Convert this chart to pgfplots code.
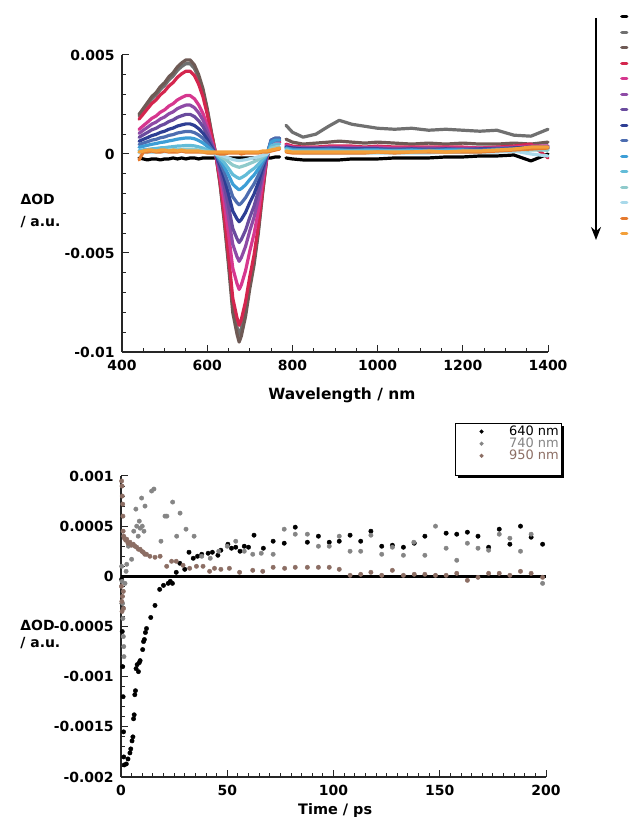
\documentclass[border=0pt]{standalone}
\usepackage{fontspec}
\setmainfont{DejaVu Sans}
\usepackage{pgfplots}
\pgfplotsset{compat=1.18}
\usepackage{pgfplotstable}
\usetikzlibrary{arrows.meta,shadows}

\definecolor{c1}{HTML}{000000}
\definecolor{c2}{HTML}{707070}
\definecolor{c3}{HTML}{6E5A55}
\definecolor{c4}{HTML}{D4264E}
\definecolor{c5}{HTML}{D6378F}
\definecolor{c6}{HTML}{8E4BA6}
\definecolor{c7}{HTML}{6A4B9E}
\definecolor{c8}{HTML}{2E3E94}
\definecolor{c9}{HTML}{4D6DB0}
\definecolor{c10}{HTML}{3D9ED6}
\definecolor{c11}{HTML}{63BCD8}
\definecolor{c12}{HTML}{8FCACB}
\definecolor{c13}{HTML}{A9D9EA}
\definecolor{c14}{HTML}{E57A2E}
\definecolor{c15}{HTML}{F3A03A}
\definecolor{k740}{HTML}{858585}
\definecolor{k950}{HTML}{8C6E64}

% transient spectra, Delta OD in units of 1e-3
\pgfplotstableread{
wl   s1    s2    s3    s4    s5    s6    s7    s8    s9    s10   s11   s12   s13   s14   s15
440  -0.2  1.92  2.0   1.76  1.24  1.04  0.84  0.64  0.48  0.34  0.18  0.10  0.06  -0.3  0.1
450  -0.25 2.21  2.3   2.02  1.43  1.20  0.97  0.74  0.55  0.39  0.21  0.12  0.07  0.1   0.15
460  -0.3  2.50  2.6   2.29  1.61  1.35  1.09  0.83  0.62  0.44  0.23  0.13  0.08  0.1   0.2
470  -0.25 2.78  2.9   2.55  1.80  1.51  1.22  0.93  0.70  0.49  0.26  0.15  0.09  0.15  0.2
480  -0.25 2.98  3.1   2.73  1.92  1.61  1.30  0.99  0.74  0.53  0.28  0.16  0.09  0.1   0.15
490  -0.3  3.26  3.4   2.99  2.11  1.77  1.43  1.09  0.82  0.58  0.31  0.17  0.10  0.1   0.2
500  -0.25 3.46  3.6   3.17  2.23  1.87  1.51  1.15  0.86  0.61  0.32  0.18  0.11  0.15  0.2
510  -0.25 3.74  3.9   3.43  2.42  2.03  1.64  1.25  0.94  0.66  0.35  0.20  0.12  0.1   0.15
520  -0.2  3.94  4.1   3.61  2.54  2.13  1.72  1.31  0.98  0.70  0.37  0.21  0.12  0.1   0.2
530  -0.25 4.22  4.4   3.87  2.73  2.29  1.85  1.41  1.06  0.75  0.40  0.22  0.13  0.1   0.15
540  -0.2  4.42  4.6   4.05  2.85  2.39  1.93  1.47  1.10  0.78  0.41  0.23  0.14  0.15  0.2
550  -0.25 4.56  4.75  4.18  2.95  2.47  2.00  1.52  1.14  0.81  0.43  0.24  0.14  0.1   0.15
560  -0.2  4.56  4.75  4.18  2.95  2.47  2.00  1.52  1.14  0.81  0.43  0.24  0.14  0.1   0.15
570  -0.2  4.32  4.5   3.96  2.79  2.34  1.89  1.44  1.08  0.77  0.41  0.23  0.14  0.1   0.15
580  -0.25 3.84  4.0   3.52  2.48  2.08  1.68  1.28  0.96  0.68  0.36  0.20  0.12  0.1   0.15
590  -0.2  3.17  3.3   2.90  2.05  1.72  1.39  1.06  0.79  0.56  0.30  0.17  0.10  0.1   0.1
600  -0.2  2.21  2.3   2.02  1.43  1.20  0.97  0.74  0.55  0.39  0.21  0.12  0.07  0.05  0.1
610  -0.2  1.06  1.1   0.97  0.68  0.57  0.46  0.35  0.26  0.19  0.10  0.06  0.03  0.05  0.1
620  -0.2  0.00  0.0   0.00  0.00  0.00  0.00  0.00  0.00  0.00  0.00  0.00  0.00  0.05  0.1
630  -0.2  -1.44 -1.5  -1.37 -1.08 -0.86 -0.71 -0.54 -0.41 -0.29 -0.20 -0.11 -0.05 0.0   0.1
640  -0.2  -3.26 -3.4  -3.09 -2.45 -1.94 -1.60 -1.22 -0.92 -0.65 -0.44 -0.24 -0.12 0.0   0.1
650  -0.2  -5.38 -5.6  -5.10 -4.03 -3.19 -2.63 -2.02 -1.51 -1.06 -0.73 -0.39 -0.20 0.05  0.1
660  -0.2  -7.68 -8.0  -7.28 -5.76 -4.56 -3.76 -2.88 -2.16 -1.52 -1.04 -0.56 -0.28 0.05  0.1
670  -0.2  -8.74 -9.1  -8.28 -6.55 -5.19 -4.28 -3.28 -2.46 -1.73 -1.18 -0.64 -0.32 0.05  0.1
675  -0.2  -9.12 -9.5  -8.65 -6.84 -5.42 -4.47 -3.42 -2.57 -1.81 -1.24 -0.67 -0.33 0.05  0.1
680  -0.2  -8.83 -9.2  -8.37 -6.62 -5.24 -4.32 -3.31 -2.48 -1.75 -1.20 -0.64 -0.32 0.0   0.1
690  -0.2  -7.87 -8.2  -7.46 -5.90 -4.67 -3.85 -2.95 -2.21 -1.56 -1.07 -0.57 -0.29 0.05  0.1
700  -0.2  -6.53 -6.8  -6.19 -4.90 -3.88 -3.20 -2.45 -1.84 -1.29 -0.88 -0.48 -0.24 0.05  0.1
710  -0.2  -5.38 -5.6  -5.10 -4.03 -3.19 -2.63 -2.02 -1.51 -1.06 -0.73 -0.39 -0.20 0.05  0.1
720  -0.2  -3.84 -4.0  -3.64 -2.88 -2.28 -1.88 -1.44 -1.08 -0.76 -0.52 -0.28 -0.14 0.05  0.1
730  -0.2  -1.92 -2.0  -1.82 -1.44 -1.14 -0.94 -0.72 -0.54 -0.38 -0.26 -0.14 -0.07 0.1   0.15
740  -0.2  -0.19 -0.2  -0.18 -0.14 -0.11 -0.09 -0.07 -0.05 -0.04 -0.03 -0.01 -0.01 0.1   0.15
750  -0.2  0.5   0.5   0.5   0.5   0.6   0.6   0.7   0.7   0.6   0.4   0.3   0.2   0.15  0.2
760  -0.15 0.6   0.6   0.6   0.6   0.7   0.7   0.8   0.8   0.7   0.5   0.35  0.25  0.2   0.25
770  -0.15 0.6   0.6   0.6   0.6   0.7   0.7   0.8   0.8   0.7   0.5   0.35  0.25  0.25  0.3
777  nan   nan   nan   nan   nan   nan   nan   nan   nan   nan   nan   nan   nan   nan   nan
785  -0.2  1.45  0.75  0.5   0.45  0.4   0.35  0.35  0.3   0.3   0.25  0.2   0.15  0.1   0.15
800  -0.25 1.1   0.6   0.4   0.35  0.3   0.3   0.3   0.25  0.2   0.15  0.1   0.1   0.05  0.1
825  -0.3  0.85  0.5   0.35  0.3   0.3   0.25  0.25  0.2   0.2   0.15  0.1   0.05  0.05  0.1
855  -0.3  1.0   0.55  0.35  0.3   0.3   0.25  0.25  0.2   0.2   0.15  0.1   0.05  0.05  0.1
885  -0.3  1.4   0.6   0.4   0.35  0.3   0.3   0.25  0.25  0.2   0.15  0.1   0.05  0.05  0.1
910  -0.3  1.7   0.65  0.4   0.35  0.3   0.3   0.25  0.2   0.2   0.15  0.1   0.05  0.05  0.1
940  -0.25 1.5   0.6   0.4   0.35  0.3   0.25  0.25  0.2   0.15  0.15  0.1   0.05  0.05  0.1
970  -0.25 1.4   0.55  0.35  0.3   0.3   0.25  0.25  0.2   0.2   0.15  0.1   0.05  0.05  0.1
1000 -0.25 1.3   0.6   0.4   0.35  0.3   0.25  0.25  0.2   0.2   0.15  0.1   0.05  0.1   0.1
1040 -0.2  1.25  0.55  0.35  0.3   0.25  0.25  0.2   0.2   0.15  0.15  0.1   0.05  0.05  0.1
1080 -0.2  1.3   0.5   0.35  0.3   0.25  0.25  0.25  0.2   0.2   0.15  0.1   0.05  0.1   0.1
1120 -0.2  1.2   0.55  0.35  0.3   0.3   0.25  0.2   0.2   0.15  0.15  0.1   0.05  0.1   0.15
1160 -0.15 1.25  0.5   0.35  0.3   0.25  0.25  0.25  0.2   0.2   0.15  0.1   0.1   0.1   0.1
1200 -0.15 1.2   0.55  0.35  0.3   0.25  0.25  0.2   0.2   0.2   0.15  0.1   0.1   0.1   0.15
1240 -0.1  1.15  0.5   0.3   0.3   0.25  0.25  0.25  0.2   0.15  0.15  0.1   0.1   0.1   0.15
1280 -0.1  1.2   0.5   0.35  0.3   0.3   0.25  0.25  0.25  0.2   0.2   0.15  0.1   0.15  0.2
1320 -0.05 0.95  0.55  0.4   0.35  0.3   0.3   0.3   0.25  0.25  0.2   0.15  0.15  0.2   0.25
1360 -0.35 0.9   0.5   0.5   0.4   0.35  0.3   0.35  0.3   0.3   0.25  0.2   0.0   0.25  0.35
1400 0.0   1.25  0.6   -0.2  0.4   0.4   0.35  0.3   0.3   0.3   0.2   0.2   -0.1  0.3   0.35
}\spec

\pgfplotsset{
  spec/.style={line width=3.2bp, line join=round, line cap=round, mark=none},
  kin/.style={only marks, mark=*, mark size=2.2bp},
  lbl/.style={font=\fontsize{14}{16}\selectfont\bfseries},
}

\begin{document}
\begin{tikzpicture}
\useasboundingbox (0,0) rectangle (629bp,827bp);

\begin{axis}[
  at={(122bp,475bp)}, anchor=south west, scale only axis,
  width=426bp, height=297bp,
  axis lines=left, axis line style={-, line width=1.2bp, black!85},
  xmin=400, xmax=1400, ymin=-10, ymax=5,
  xtick={400,600,800,1000,1200,1400},
  xticklabels={400,600,800,1000,1200,1400},
  minor x tick num=3,
  ytick={-10,-5,0,5}, yticklabels={-0.01,-0.005,0,0.005},
  minor y tick num=4,
  tick align=inside, major tick length=7bp, minor tick length=4bp,
  tick style={line width=1bp, black!85},
  ticklabel style={lbl},
  xticklabel style={yshift=-5bp}, yticklabel style={xshift=-4bp},
  xlabel={Wavelength / nm},
  every axis x label/.style={at={(axis description cs:0.516,-0.145)}, anchor=center,
    font=\fontsize{15.5}{18}\selectfont\bfseries},
  ylabel={ΔOD\\/ a.u.},
  every axis y label/.style={at={(axis description cs:-0.2465,0.475)}, anchor=west,
    align=left, font=\fontsize{14}{22}\selectfont\bfseries},
  unbounded coords=jump, clip=false,
  legend style={draw=none, fill=none, at={(1.169,1.1347)}, anchor=north west,
    row sep=12.3bp, inner sep=0pt, nodes={inner sep=0pt}},
  legend image code/.code={\draw[#1, line width=3.2bp, line cap=round] (0bp,0bp) -- (5bp,0bp);},
]
\addplot[spec, c1]  table[x=wl, y=s1]  {\spec}; \addlegendentry{}
\addplot[spec, c2]  table[x=wl, y=s2]  {\spec}; \addlegendentry{}
\addplot[spec, c3]  table[x=wl, y=s3]  {\spec}; \addlegendentry{}
\addplot[spec, c4]  table[x=wl, y=s4]  {\spec}; \addlegendentry{}
\addplot[spec, c5]  table[x=wl, y=s5]  {\spec}; \addlegendentry{}
\addplot[spec, c6]  table[x=wl, y=s6]  {\spec}; \addlegendentry{}
\addplot[spec, c7]  table[x=wl, y=s7]  {\spec}; \addlegendentry{}
\addplot[spec, c8]  table[x=wl, y=s8]  {\spec}; \addlegendentry{}
\addplot[spec, c9]  table[x=wl, y=s9]  {\spec}; \addlegendentry{}
\addplot[spec, c10] table[x=wl, y=s10] {\spec}; \addlegendentry{}
\addplot[spec, c11] table[x=wl, y=s11] {\spec}; \addlegendentry{}
\addplot[spec, c12] table[x=wl, y=s12] {\spec}; \addlegendentry{}
\addplot[spec, c13] table[x=wl, y=s13] {\spec}; \addlegendentry{}
\addplot[spec, c14] table[x=wl, y=s14] {\spec}; \addlegendentry{}
\addplot[spec, c15] table[x=wl, y=s15] {\spec}; \addlegendentry{}
\end{axis}

% time arrow beside the legend
\draw[line width=1.8bp, -{Stealth[length=13bp, width=10bp]}] (596bp,809bp) -- (596bp,587bp);

\begin{axis}[
  at={(121bp,50bp)}, anchor=south west, scale only axis,
  width=425bp, height=301bp,
  axis lines=left, axis line style={-, line width=1.2bp, black!85},
  xmin=0, xmax=200, ymin=-2, ymax=1,
  xtick={0,50,100,150,200}, xticklabels={0,50,100,150,200},
  minor x tick num=9,
  ytick={-2,-1.5,-1,-0.5,0,0.5,1},
  yticklabels={-0.002,-0.0015,-0.001,-0.0005,0,0.0005,0.001},
  minor y tick num=4,
  tick align=inside, major tick length=7bp, minor tick length=4bp,
  tick style={line width=1bp, black!85},
  ticklabel style={lbl},
  xticklabel style={yshift=-5bp}, yticklabel style={xshift=-4bp},
  xlabel={Time / ps},
  every axis x label/.style={at={(axis description cs:0.504,-0.112)}, anchor=center,
    font=\fontsize{14.5}{16}\selectfont\bfseries},
  ylabel={ΔOD\\/ a.u.},
  every axis y label/.style={at={(axis description cs:-0.245,0.472)}, anchor=west,
    align=left, font=\fontsize{14}{17}\selectfont\bfseries},
  clip=false,
  legend style={at={(0.786,1.176)}, anchor=north west, draw=black, line width=1bp,
    fill=white, inner sep=2bp, row sep=0bp, nodes={inner sep=0.5bp},
    font=\fontsize{13}{13}\selectfont,
    drop shadow={shadow xshift=2.5bp, shadow yshift=-2.5bp, fill=black, opacity=1}},
  legend cell align=left,
  legend image code/.code={%
    \pgfpathmoveto{\pgfqpoint{-24bp}{0bp}}\pgfpathlineto{\pgfqpoint{27bp}{0bp}}\pgfusepath{discard}%
    \draw[#1, mark size=1.5bp] plot coordinates {(0bp,0bp)};},
]
\addplot[black, line width=2.4bp, forget plot] coordinates {(0,0) (200,0)};
\addplot[kin, black] coordinates {
(0.3,-0.03) (0.5,-0.27) (0.6,-0.55) (0.8,-0.9) (1.0,-1.2) (1.2,-1.55) (1.3,-1.8)
(1.5,-1.88) (2.5,-1.87) (3.3,-1.82) (4.2,-1.76) (4.6,-1.72) (5.2,-1.64) (5.6,-1.6)
(5.9,-1.42) (6.2,-1.38) (6.5,-1.18) (6.8,-1.14) (7.1,-0.92) (7.6,-0.88) (8.2,-0.95)
(8.6,-0.86) (9.0,-0.84) (10.2,-0.73) (10.6,-0.65) (11.0,-0.63) (11.5,-0.56) (12.0,-0.52)
(14.0,-0.41) (16.0,-0.29) (18.2,-0.13) (20.0,-0.09) (22.2,-0.07) (23.2,-0.05) (24.2,-0.07)
(26.0,0.04) (27.7,0.13) (30.0,0.07) (32,0.24) (34,0.18) (36,0.2) (38,0.22) (41,0.23)
(43,0.24) (45.6,0.21) (47,0.26) (50.3,0.32) (52,0.28) (54,0.29) (56,0.25) (58,0.3)
(60,0.29) (62.6,0.41) (67,0.28) (71.6,0.35) (76.8,0.33) (82,0.49) (87.7,0.34) (92.9,0.4)
(98,0.34) (102.7,0.35) (107.8,0.41) (112.8,0.35) (117.6,0.45) (122.7,0.3) (127.7,0.31)
(132.9,0.29) (138,0.33) (143,0.4) (153,0.43) (158,0.42) (163,0.44) (168,0.4) (173,0.29)
(178,0.47) (183,0.32) (188,0.5) (193,0.39) (198.4,0.32)
};
\addlegendentry{640 nm}
\addplot[kin, k740] coordinates {
(0.3,0.1) (0.5,-0.05) (0.7,-0.27) (0.9,-0.42) (1.1,-0.6) (1.3,-0.7) (1.4,-0.8)
(1.9,-0.07) (2.4,0.05) (2.7,0.12) (3.5,0.3) (5.0,0.17) (6.0,0.45) (7.0,0.67) (7.4,0.5)
(8.1,0.4) (8.6,0.55) (9.0,0.48) (9.7,0.78) (10.0,0.5) (10.8,0.45) (11.3,0.7) (14.4,0.85)
(15.5,0.87) (18.8,0.35) (20.7,0.6) (21.6,0.6) (24.3,0.74) (26.2,0.4) (27.8,0.63)
(30.6,0.47) (34.4,0.4) (38,0.2) (42,0.18) (46,0.25) (50,0.3) (54,0.35) (58,0.25)
(62,0.22) (66,0.23) (71.6,0.22) (76.8,0.47) (82,0.42) (87.7,0.42) (92.9,0.3) (98,0.3)
(102.7,0.4) (107.8,0.25) (112.8,0.25) (117.6,0.41) (122.7,0.22) (127.7,0.29) (132.9,0.21)
(137.8,0.34) (143,0.21) (148,0.5) (153,0.28) (158,0.16) (163,0.33) (168,0.28) (173,0.26)
(178,0.42) (183,0.38) (188,0.25) (193,0.42) (198.4,-0.07)
};
\addlegendentry{\textcolor{k740}{740 nm}}
\addplot[kin, k950] coordinates {
(0.2,-0.1) (0.4,-0.25) (0.5,-0.35) (0.7,-0.2) (1.1,-0.15) (1.2,-0.32)
(0.3,0.95) (0.5,0.9) (0.6,0.8) (0.8,0.72) (0.9,0.6) (1.0,0.45) (1.3,0.4) (1.6,0.38)
(2.2,0.36) (2.7,0.37) (3.3,0.33) (4.2,0.34) (5.0,0.31) (5.8,0.32) (6.6,0.3) (7.4,0.29)
(8.2,0.27) (9.0,0.27) (9.8,0.25) (10.5,0.24) (11.2,0.22) (12.0,0.22) (13.6,0.2) (16.0,0.19)
(18.4,0.2) (21.5,0.1) (23.8,0.15) (26.0,0.15) (29.2,0.11) (32.3,0.08) (35.5,0.1) (38.6,0.1)
(41.7,0.05) (44,0.08) (47,0.07) (51,0.08) (55.8,0.04) (62,0.06) (66.7,0.05) (71.6,0.09)
(77,0.08) (82,0.09) (87.7,0.09) (92.9,0.09) (98,0.09) (102.7,0.07) (107.8,0.01) (112.8,0.02)
(117.6,0.04) (122.7,0.01) (127.7,0.06) (132.9,0.01) (138,0.02) (143,0.02) (148,0.01)
(153,0.01) (158,0.03) (163,-0.04) (168,-0.01) (173,0.03) (178,0.03) (183,0.01) (188,0.05)
(193,0.03) (198.4,-0.01)
};
\addlegendentry{\textcolor{k950}{950 nm}}
\addlegendimage{empty legend}
\addlegendentry{\vphantom{0}}
\end{axis}
\end{tikzpicture}
\end{document}
